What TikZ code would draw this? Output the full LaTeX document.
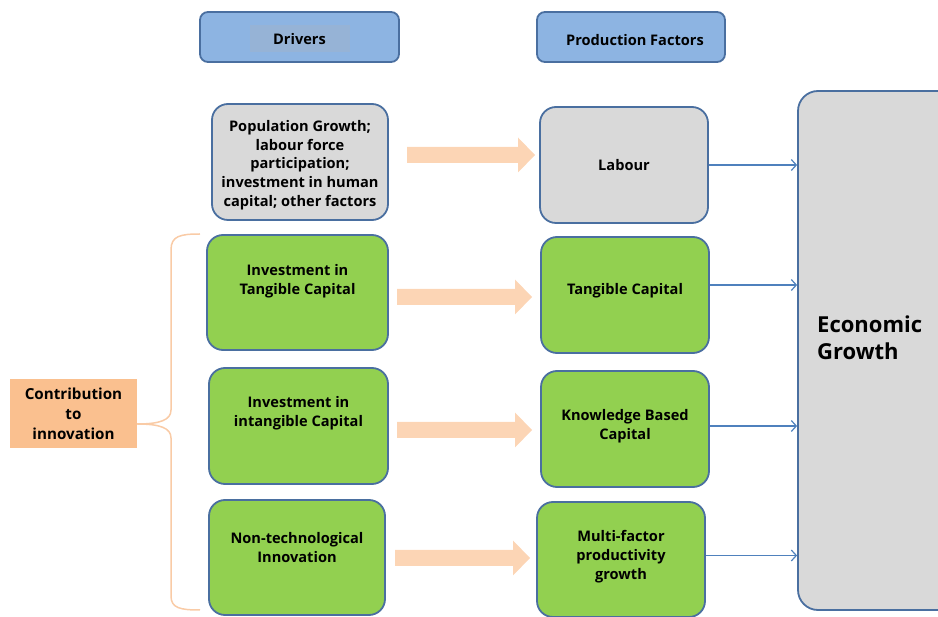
\documentclass[tikz,border=0pt]{standalone}
\usepackage{fontspec}
\setmainfont{Open Sans}
\usetikzlibrary{arrows.meta,calc}
\definecolor{hdfill}{HTML}{8DB4E2}
\definecolor{hdtext}{HTML}{96B3D6}
\definecolor{bord}{HTML}{4A6FA0}
\definecolor{greyfill}{HTML}{D9D9D9}
\definecolor{greenfill}{HTML}{92D050}
\definecolor{peach}{HTML}{FCD5B5}
\definecolor{contrib}{HTML}{FAC08F}
\definecolor{bracec}{HTML}{F9CBA6}
\definecolor{conn}{HTML}{4F81BD}
\newcommand{\fatarrow}[3]{%
  \fill[peach] (#1,#3-8) -- (#2-17,#3-8) -- (#2-17,#3-17.5) -- (#2,#3) -- (#2-17,#3+17.5) -- (#2-17,#3+8) -- (#1,#3+8) -- cycle;}
\tikzset{
  base/.style={draw=bord, line width=1.8pt, align=center, inner sep=0pt,
    font=\fontsize{14.6}{18.7}\selectfont\bfseries},
  hdbox/.style={base, fill=hdfill, rounded corners=8pt, minimum height=50pt},
  greybox/.style={base, fill=greyfill, rounded corners=16pt, minimum width=172pt, minimum height=116pt},
  greenbox/.style={base, fill=greenfill, rounded corners=16pt, minimum height=115pt},
  txt/.style={align=center, inner sep=0pt, font=\fontsize{14.6}{18.7}\selectfont\bfseries},
  thin/.style={draw=conn, line width=1.2pt, -{Straight Barb[length=5pt,width=11pt,line width=1.2pt]}},
}
\begin{document}
\begin{tikzpicture}[x=1pt,y=-1pt]
\useasboundingbox (0,0) rectangle (938,617);
\begin{scope}
\clip (0,0) rectangle (938,617);
% headers
\node[hdbox, minimum width=199pt] (hd1) at (299.5,37) {};
\node[txt, fill=hdtext, minimum width=100pt, minimum height=27pt] (hd1t) at ($(hd1.center)+(0,2)$) {Drivers};
\node[hdbox, minimum width=188pt] (hd2) at (631,37) {};
\node[txt] (hd2t) at ($(hd2.center)+(4,3)$) {Production Factors};
% top row
\node[greybox, minimum width=176pt] (pop) at (300,162) {};
\node[txt] (popt) at ($(pop.center)+(0,3)$) {Population Growth;\\labour force\\participation;\\investment in human\\capital; other factors};
\node[greybox, minimum width=168pt] (lab) at (624,165) {Labour};
% economic growth
\node[base, fill=greyfill, rounded corners=20pt, minimum width=170pt, minimum height=519pt] (eg) at (883,350.5) {};
\node[anchor=west, align=left, inner sep=0pt, font=\fontsize{22}{27.5}\selectfont\bfseries] (egt) at (817,338) {Economic\\Growth};
% left green
\node[greenbox, minimum width=181pt] (itc) at (297.5,292.5) {};
\node[txt] (itct) at ($(itc.center)+(0,-11)$) {Investment in\\Tangible Capital};
\node[greenbox, minimum width=179pt, minimum height=116pt] (iic) at (298.5,426) {};
\node[txt] (iict) at ($(iic.center)+(0,-13)$) {Investment in\\intangible Capital};
\node[greenbox, minimum width=176pt] (ntc) at (297,557.5) {};
\node[txt] (ntct) at ($(ntc.center)+(0,-10)$) {Non-technological\\Innovation};
% right green
\node[greenbox, minimum width=168pt, minimum height=116pt] (tc) at (625,295) {};
\node[txt] (tct) at ($(tc.center)+(0,-4)$) {Tangible Capital};
\node[greenbox, minimum width=168pt, minimum height=116pt] (kbc) at (625,429) {};
\node[txt] (kbct) at ($(kbc.center)+(0,-3)$) {Knowledge Based\\Capital};
\node[greenbox, minimum width=168pt] (mfp) at (621,559.5) {};
\node[txt] (mfpt) at ($(mfp.center)+(0,-3)$) {Multi-factor\\productivity\\growth};
% contribution
\node[fill=contrib, minimum width=127pt, minimum height=69pt, inner sep=0pt, align=center,
  font=\fontsize{15.2}{20}\selectfont\bfseries] (ci) at (73.5,413.5) {Contribution\\to\\innovation};
% brace
\draw[bracec, line width=1.5pt] (200,234) .. controls (180,234) and (171,236) .. (171,250) -- (171,410)
  .. controls (171,420) and (160,424) .. (ci.east |- 0,424)
  (ci.east |- 0,424) .. controls (160,424) and (171,428) .. (171,438) -- (171,596)
  .. controls (171,608) and (180,610) .. (200,610);
% fat arrows
\fatarrow{407}{535}{155}
\fatarrow{397}{532}{297}
\fatarrow{397}{532}{430}
\fatarrow{395}{530}{558}
% thin connectors
\draw[thin] (lab.east) -- (lab.east -| eg.west);
\draw[thin] ($(tc.east)+(0,-10)$) -- ($(tc.east -| eg.west)+(0,-10)$);
\draw[thin] ($(kbc.east)+(0,-3)$) -- ($(kbc.east -| eg.west)+(0,-3)$);
\draw[thin] ($(mfp.east)+(0,-4)$) -- ($(mfp.east -| eg.west)+(0,-4)$);
\end{scope}
\end{tikzpicture}
\end{document}
